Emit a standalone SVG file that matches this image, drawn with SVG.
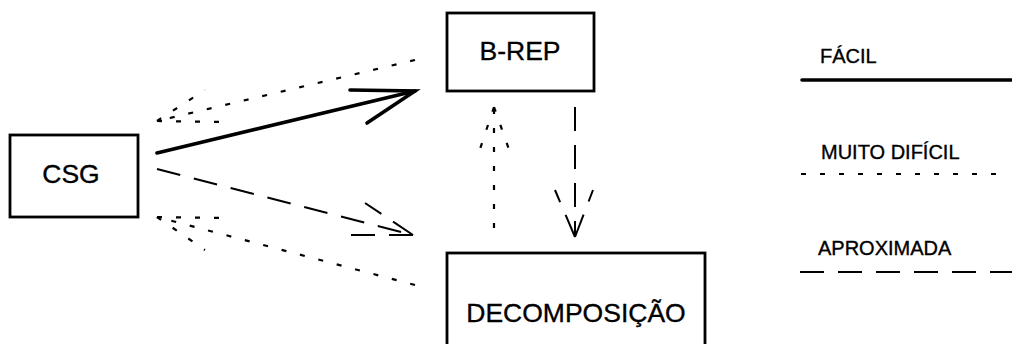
<svg xmlns="http://www.w3.org/2000/svg" width="1012" height="344" viewBox="0 0 1012 344">
  <style>
    .box { fill: #fff; stroke: #000; stroke-width: 2.8; }
    .lbl { font-family: "Liberation Sans", Arial, sans-serif; font-size: 26.5px; fill: #000; stroke: #000; stroke-width: 0.35; text-anchor: middle; }
    .leg { font-family: "Liberation Sans", Arial, sans-serif; font-size: 20px; fill: #000; stroke: #000; stroke-width: 0.35; }
    .easy { fill: none; stroke: #000; stroke-width: 3.6; stroke-linecap: round; }
    .hard { fill: none; stroke: #000; stroke-width: 2.2; stroke-dasharray: 5 14; }
    .approx { fill: none; stroke: #000; stroke-width: 2; stroke-dasharray: 24 14; }
  </style>

  <rect width="1012" height="344" fill="#fff"/>

  <!-- connectors -->
  <g id="connectors">
    <!-- CSG -> B-REP (easy) -->
    <g id="csg-brep">
      <line class="easy" x1="157" y1="153" x2="415" y2="91"/>
      <polyline class="easy" points="350,90 415,91 367,123"/>
    </g>
    <!-- B-REP -> CSG (very hard), head at CSG -->
    <g id="brep-csg">
      <line class="hard" x1="415" y1="60" x2="157" y2="121"/>
      <line class="hard" x1="157" y1="121" x2="205" y2="90"/>
      <line class="hard" x1="157" y1="121" x2="222" y2="122"/>
    </g>
    <!-- DECOMPOSICAO -> CSG (very hard), head at CSG -->
    <g id="decomp-csg">
      <line class="hard" x1="415" y1="285" x2="157" y2="217"/>
      <line class="hard" x1="157" y1="217" x2="222" y2="218"/>
      <line class="hard" x1="157" y1="217" x2="205" y2="250"/>
    </g>
    <!-- CSG -> DECOMPOSICAO (approximate) -->
    <g id="csg-decomp">
      <line class="approx" x1="157" y1="169" x2="413" y2="235"/>
      <line class="approx" x1="413" y1="235" x2="365" y2="203"/>
      <line class="approx" x1="413" y1="235" x2="348" y2="235"/>
    </g>
    <!-- DECOMPOSICAO -> B-REP (very hard) -->
    <g id="decomp-brep">
      <line class="hard" x1="494" y1="228" x2="494" y2="107"/>
      <line class="hard" x1="494" y1="107" x2="478" y2="155"/>
      <line class="hard" x1="494" y1="107" x2="511" y2="155"/>
    </g>
    <!-- B-REP -> DECOMPOSICAO (approximate) -->
    <g id="brep-decomp">
      <line class="approx" x1="575" y1="107" x2="575" y2="237"/>
      <line class="approx" x1="575" y1="237" x2="555" y2="190"/>
      <line class="approx" x1="575" y1="237" x2="593" y2="190"/>
    </g>
  </g>

  <!-- nodes -->
  <g id="node-csg">
    <rect class="box" x="10" y="135" width="128" height="82"/>
    <text class="lbl" x="71" y="183">CSG</text>
  </g>
  <g id="node-brep">
    <rect class="box" x="447" y="13" width="147" height="78"/>
    <text class="lbl" x="520" y="60">B-REP</text>
  </g>
  <g id="node-decomp">
    <rect class="box" x="447" y="253" width="258" height="110"/>
    <text class="lbl" x="576" y="322">DECOMPOSIÇÃO</text>
  </g>

  <!-- legend -->
  <g id="legend">
    <text class="leg" x="820" y="63">FÁCIL</text>
    <line class="easy" x1="802" y1="80" x2="1012" y2="80" stroke-width="3"/>
    <text class="leg" x="821" y="159">MUITO DIFÍCIL</text>
    <line class="hard" x1="801" y1="174" x2="1005" y2="174"/>
    <text class="leg" x="818" y="255">APROXIMADA</text>
    <line class="approx" x1="800" y1="272" x2="1012" y2="272"/>
  </g>
</svg>
